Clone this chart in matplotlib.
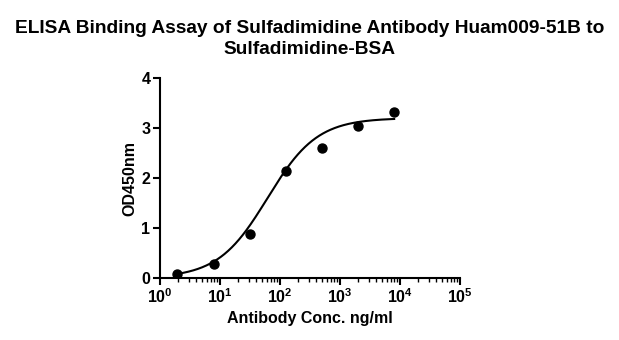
import numpy as np
import matplotlib

matplotlib.use("Agg")
import matplotlib.pyplot as plt
from matplotlib.ticker import LogLocator, NullFormatter

plt.rcParams["font.family"] = ["Liberation Sans", "DejaVu Sans"]
plt.rcParams["font.weight"] = "bold"

# 항체 농도 (ng/ml), 4배 희석
conc = [1.95, 7.81, 31.25, 125, 500, 2000, 8000]
od450 = [0.09, 0.28, 0.89, 2.14, 2.61, 3.04, 3.33]

# 4PL 피팅 파라미터 (그림에서 추정)
bottom, top, ec50, hill = 0.0, 3.2, 62.0, 1.05

title = "ELISA Binding Assay of Sulfadimidine Antibody Huam009-51B to\nSulfadimidine-BSA"
xlabel = "Antibody Conc. ng/ml"
ylabel = "OD450nm"


def main():
    fig = plt.figure(figsize=(6.19, 3.40), dpi=100)
    ax = fig.add_axes([160 / 619, 1 - 278 / 340, 300 / 619, 200 / 340])

    xs = np.logspace(np.log10(conc[0]), np.log10(conc[-1]), 300)
    ys = bottom + (top - bottom) / (1 + (ec50 / xs) ** hill)
    ax.plot(xs, ys, color="black", lw=1.5)
    ax.scatter(conc, od450, s=42, color="black", zorder=3)

    ax.set_xscale("log")
    ax.set_xlim(1, 1e5)
    ax.set_ylim(0, 4)
    ax.set_yticks([0, 1, 2, 3, 4])
    ax.xaxis.set_major_locator(LogLocator(base=10, numticks=10))
    ax.xaxis.set_minor_locator(LogLocator(base=10, subs=np.arange(2, 10), numticks=10))
    ax.xaxis.set_minor_formatter(NullFormatter())

    for s in ("top", "right"):
        ax.spines[s].set_visible(False)
    for s in ("left", "bottom"):
        ax.spines[s].set_linewidth(1.5)
    ax.tick_params(which="major", length=5, width=1.5, labelsize=11.5, pad=2)
    ax.tick_params(which="minor", length=3, width=1.0)

    ax.set_xlabel(xlabel, fontsize=11.5, fontweight="bold", labelpad=3)
    ax.set_ylabel(ylabel, fontsize=11.5, fontweight="bold", labelpad=3)
    fig.suptitle(title, fontsize=13.8, fontweight="bold", y=0.94, linespacing=1.3)

    fig.savefig("out.png", dpi=100)
    plt.close(fig)


if __name__ == "__main__":
    main()
